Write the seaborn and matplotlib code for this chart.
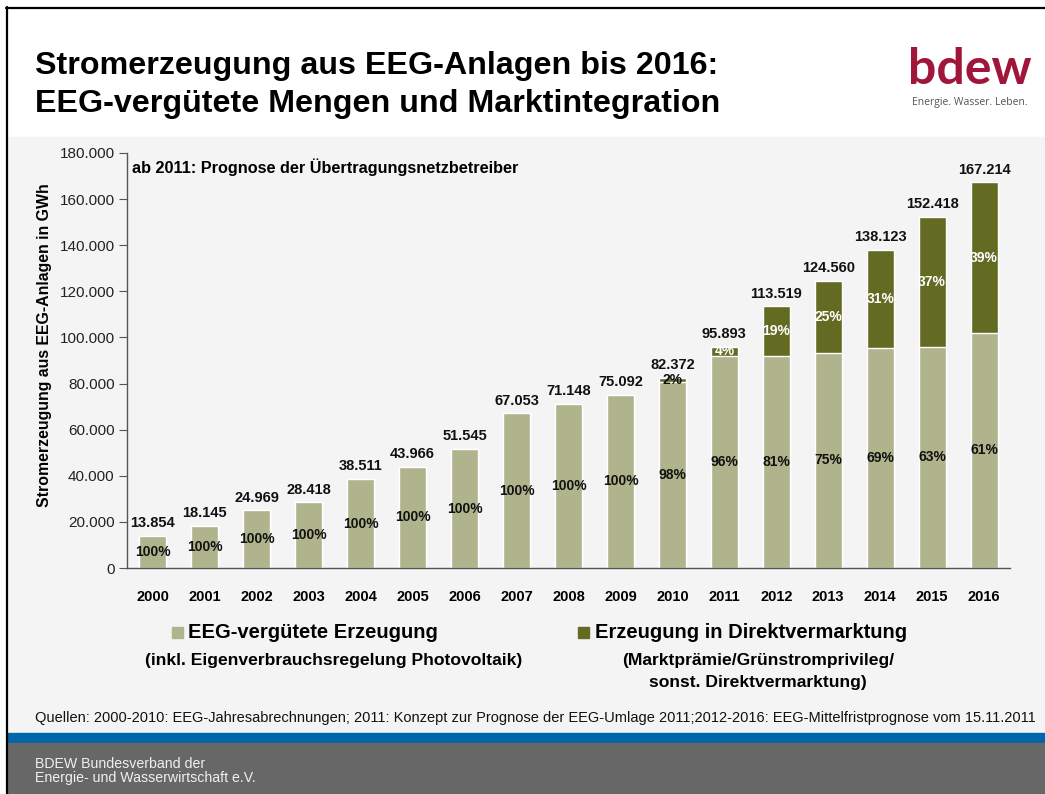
import matplotlib
matplotlib.use("Agg")
import matplotlib.pyplot as plt
from matplotlib.patches import Rectangle
from matplotlib.lines import Line2D
import seaborn as sns
import pandas as pd

# --- data (GWh) ---
years = [str(y) for y in range(2000, 2017)]
total = [13854, 18145, 24969, 28418, 38511, 43966, 51545, 67053, 71148,
         75092, 82372, 95893, 113519, 124560, 138123, 152418, 167214]
eeg = [13854, 18145, 24969, 28418, 38511, 43966, 51545, 67053, 71148,
       75092, 80700, 92060, 91950, 93420, 95300, 96020, 102000]
eeg_pct = ["100%"] * 10 + ["98%", "96%", "81%", "75%", "69%", "63%", "61%"]
direkt_pct = [""] * 10 + ["2%", "4%", "19%", "25%", "31%", "37%", "39%"]

LIGHT = "#b0b48c"
DARK = "#636b22"
BG = "#f4f4f4"
FONT = ["Liberation Sans", "DejaVu Sans"]

sns.set_theme(style="white")
plt.rcParams["font.family"] = FONT
plt.rcParams["text.color"] = "black"

df = pd.DataFrame({"year": years, "total": total, "eeg": eeg})

W, H = 1045, 794
fig = plt.figure(figsize=(W / 100, H / 100), dpi=100)
fig.patch.set_facecolor("white")


def fx(px):
    return px / W


def fy(py):
    return 1 - py / H


# slide background bands
fig.add_artist(Rectangle((fx(7), fy(733)), fx(1045 - 7), 596 / H,
                         transform=fig.transFigure, color=BG, zorder=0))
fig.add_artist(Rectangle((fx(7), fy(743)), fx(1045 - 7), 10 / H,
                         transform=fig.transFigure, color="#0066aa", zorder=0))
fig.add_artist(Rectangle((fx(7), 0), fx(1045 - 7), 51 / H,
                         transform=fig.transFigure, color="#676767", zorder=0))
fig.add_artist(Line2D([fx(6), 1], [fy(7.5), fy(7.5)], color="black", lw=1.6,
                      transform=fig.transFigure))
fig.add_artist(Line2D([fx(6.5), fx(6.5)], [0, fy(7)], color="black", lw=1.6,
                      transform=fig.transFigure))

ax = fig.add_axes([fx(127), fy(568), fx(1010 - 127), (568 - 153) / H])
ax.set_facecolor(BG)

sns.barplot(data=df, x="year", y="total", color=DARK, width=0.52,
            saturation=1, ax=ax)
sns.barplot(data=df, x="year", y="eeg", color=LIGHT, width=0.52,
            saturation=1, ax=ax)

ax.set_xlim(-0.5, 16.5)
ax.set_ylim(0, 180000)
ax.set_yticks(range(0, 180001, 20000))
ax.set_yticklabels([f"{v:,}".replace(",", ".") for v in range(0, 180001, 20000)],
                   fontsize=11, color="#222222")
ax.set_xticks(range(len(years)))
ax.set_xticklabels(years, fontsize=10.5, fontweight="bold", color="black")
ax.tick_params(axis="y", length=6, width=0.8, color="#555555", left=True, pad=3)
ax.tick_params(axis="x", length=0, pad=16)
for s in ["top", "right"]:
    ax.spines[s].set_visible(False)
for s in ["left", "bottom"]:
    ax.spines[s].set_color("#555555")
    ax.spines[s].set_linewidth(1.0)
ax.set_xlabel("")
ax.set_ylabel("Stromerzeugung aus EEG-Anlagen in GWh", fontsize=11.4,
              fontweight="bold", color="black")
ax.yaxis.set_label_coords((52 - 127) / 883, (568 - 345) / 415)

for i, (t, e) in enumerate(zip(total, eeg)):
    ax.text(i, t + 2500, f"{t:,}".replace(",", "."), ha="center", va="bottom",
            fontsize=10.5, fontweight="bold", color="#111111")
    ax.text(i, e / 2, eeg_pct[i], ha="center", va="center",
            fontsize=10, fontweight="bold", color="#111111")
    if direkt_pct[i]:
        col = "#111111" if direkt_pct[i] == "2%" else "white"
        ax.text(i, (e + t) / 2, direkt_pct[i], ha="center", va="center",
                fontsize=10, fontweight="bold", color=col)

ax.text(0.006, 0.965, "ab 2011: Prognose der Übertragungsnetzbetreiber",
        transform=ax.transAxes, fontsize=11.7, fontweight="bold", va="center")

# title and logo
fig.text(fx(35), fy(66), "Stromerzeugung aus EEG-Anlagen bis 2016:",
         fontsize=23.2, fontweight="bold", va="center")
fig.text(fx(35), fy(104), "EEG-vergütete Mengen und Marktintegration",
         fontsize=23.2, fontweight="bold", va="center")
fig.text(fx(970), fy(84), "bdew", fontsize=36, color="#a0153a",
         ha="center", va="baseline", fontweight="bold",
         family=["Lato", "DejaVu Sans"])
fig.text(fx(970), fy(103), "Energie. Wasser. Leben.", fontsize=7.5,
         color="#555555", ha="center", va="center",
         family=["Open Sans", "DejaVu Sans"])

# legend
fig.add_artist(Rectangle((fx(172), fy(638)), fx(11), 11 / H,
                         transform=fig.transFigure, color=LIGHT))
fig.text(fx(188), fy(633), "EEG-vergütete Erzeugung", fontsize=14.5,
         fontweight="bold", va="center")
fig.text(fx(334), fy(661), "(inkl. Eigenverbrauchsregelung Photovoltaik)",
         fontsize=12.6, fontweight="bold", ha="center", va="center")
fig.add_artist(Rectangle((fx(578), fy(638)), fx(11), 11 / H,
                         transform=fig.transFigure, color=DARK))
fig.text(fx(595), fy(633), "Erzeugung in Direktvermarktung", fontsize=14.5,
         fontweight="bold", va="center")
fig.text(fx(758), fy(661), "(Marktprämie/Grünstromprivileg/",
         fontsize=12.6, fontweight="bold", ha="center", va="center")
fig.text(fx(758), fy(683), "sonst. Direktvermarktung)",
         fontsize=12.6, fontweight="bold", ha="center", va="center")

fig.text(fx(35), fy(718),
         "Quellen: 2000-2010: EEG-Jahresabrechnungen; 2011: Konzept zur Prognose "
         "der EEG-Umlage 2011;2012-2016: EEG-Mittelfristprognose vom 15.11.2011",
         fontsize=10.55, va="center", color="#111111")
fig.text(fx(35), fy(764), "BDEW Bundesverband der", fontsize=10.2,
         color="#f0f0f0", va="center")
fig.text(fx(35), fy(778), "Energie- und Wasserwirtschaft e.V.", fontsize=10.2,
         color="#f0f0f0", va="center")

fig.savefig("out.png", dpi=100, facecolor=fig.get_facecolor())
